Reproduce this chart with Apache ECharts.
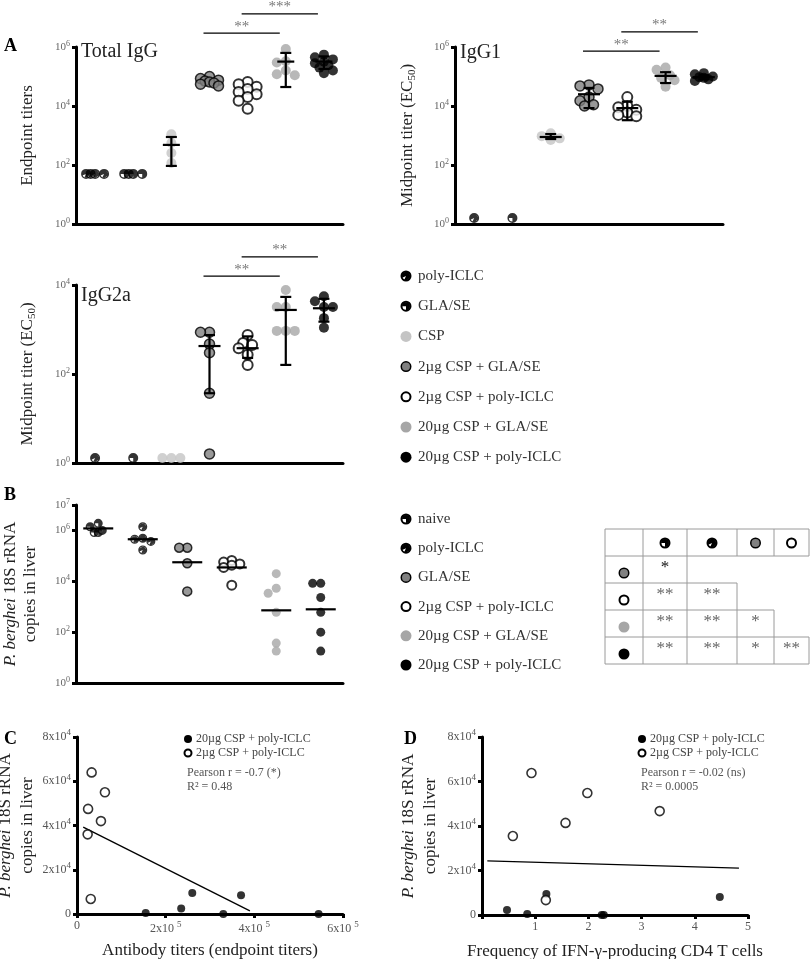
<!DOCTYPE html>
<html><head><meta charset="utf-8">
<script src="https://cdn.jsdelivr.net/npm/echarts@6/dist/echarts.min.js"></script>
<style>html,body{margin:0;padding:0;background:#fff}#c{width:810px;height:959px}</style>
</head><body><div id="c"></div>
<script>
// ================= DATA =================
const groupsA = ['poly-ICLC','GLA/SE','CSP','2µg CSP + GLA/SE','2µg CSP + poly-ICLC','20µg CSP + GLA/SE','20µg CSP + poly-ICLC'];
const groupsB = ['naive','poly-ICLC','GLA/SE','2µg CSP + poly-ICLC','20µg CSP + GLA/SE','20µg CSP + poly-ICLC'];

// Total IgG (endpoint titers)
const totalIgG = [
  [50,50,50,50],
  [50,50,50,50],
  [1100,560,255,117],
  [100000,85000,75000,70000,65000,60000,55000,48000],
  [65000,55000,45000,38000,30000,25000,20000,15000,8000],
  [850000,330000,300000,160000,120000,110000],
  [550000,450000,380000,320000,280000,240000,200000,160000,130000]
];
const totalIgGMean = [null,null,480,null,null,320000,320000];
const totalIgGLow  = [null,null,93,null,null,44000,180000];
const totalIgGHigh = [null,null,890,null,null,630000,480000];

// IgG1 (midpoint titer EC50)
const igg1 = [
  [1.6],
  [1.6],
  [1200,950,800,700],
  [52000,48000,38000,20000,15000,11000,10000],
  [20000,10000,9000,7500,6000,5000,4500],
  [200000,170000,110000,90000,75000,45000],
  [130000,120000,100000,95000,90000,80000,70000]
];
const igg1Mean = [null,null,890,25000,8500,105000,95000];
const igg1Low  = [null,null,760,8500,3300,60000,80000];
const igg1High = [null,null,1120,41000,14000,140000,110000];

// IgG2a (midpoint titer EC50)
const igg2a = [
  [1.3],
  [1.3],
  [1.3,1.3,1.3],
  [870,870,470,300,37,1.6],
  [750,500,450,380,270,160],
  [7700,3200,3200,930,930,930],
  [5600,4300,3200,3200,1800,1100]
];
const igg2aMean = [null,null,null,425,380,2750,3000];
const igg2aLow  = [null,null,null,37,230,160,1500];
const igg2aHigh = [null,null,null,750,700,5400,4900];

// Significance bars: [fromGroup, toGroup, level (log10 titer)]
const sigTotal = [[3,5,6.47],[4,6,7.12]];
const sigTotalLbl = ['**','***'];
const sigIgG1 = [[3,5,5.86],[4,6,6.51]];
const sigIgG1Lbl = ['**','**'];
const sigIgG2a = [[3,5,4.2],[4,6,4.63]];
const sigIgG2aLbl = ['**','**'];

// B: P. berghei 18S rRNA copies in liver
const liver = [
  [1900000,1400000,1000000,830000,830000],
  [1400000,490000,450000,370000,170000],
  [210000,210000,51000,4000],
  [66000,57000,48000,43000,35000,7000],
  [20000,5300,3400,600,37,18],
  [8300,8300,2300,600,100,18]
];
const liverMedian = [1200000,450000,56000,35000,720,790];

// Table of significance (rows vs columns)
const tableRows = [['*'],['**','**'],['**','**','*'],['**','**','*','**']];

// C: antibody titers vs liver rRNA
const cBlackX = [155000,235000,260000,330000,370000,545000];
const cBlackY = [500,2500,9500,0,8500,0];
const cOpenX  = [33000,63000,25000,54000,24000,31000];
const cOpenY  = [64000,55000,47500,42000,36000,6800];
const cFit    = [[14000,39300],[390000,1400]];

// D: IFN-g CD4 T cell frequency vs liver rRNA
const dBlackX = [0.47,0.85,1.21,2.25,2.29,4.47];
const dBlackY = [2200,400,9400,0,0,8100];
const dOpenX  = [0.58,0.93,1.57,1.98,1.2,3.34];
const dOpenY  = [35500,63800,41400,54800,6700,46700];
const dFit    = [[0.1,24300],[4.83,21100]];

// ================= STYLE / BUILD =================
const FF = '"Liberation Serif", "Times New Roman", serif';
const RING = 'M10 0A10 10 0 1 1 10 20A10 10 0 1 1 10 0ZM10 3A7 7 0 1 0 10 17A7 7 0 1 0 10 3Z';
const SYM = {
  quarter: 'path://' + RING + 'M10 10L3 10A7 7 0 1 1 10 17Z',
  slash: 'path://' + RING + 'M10 10L3.66 12.96A7 7 0 1 1 7.04 16.34Z'
};
const STY = {
  slash:   {symbol: SYM.slash, itemStyle:{color:'#000'}},
  quarter: {symbol: SYM.quarter, itemStyle:{color:'#000'}},
  csp:     {symbol:'circle', itemStyle:{color:'#c4c4c4'}},
  g2:      {symbol:'circle', itemStyle:{color:'#808080', borderColor:'#000', borderWidth:1.5}},
  p2:      {symbol:'circle', itemStyle:{color:'#fff', borderColor:'#000', borderWidth:2}},
  g20:     {symbol:'circle', itemStyle:{color:'#a6a6a6'}},
  p20:     {symbol:'circle', itemStyle:{color:'#000'}}
};
const stylesA = ['slash','quarter','csp','g2','p2','g20','p20'];
const stylesB = ['quarter','slash','g2','p2','g20','p20'];

// compact beeswarm: horizontal spread limited to a few pixels, overlaps allowed
function swarm(logs, ppu, d) {
  const placed = [];
  const s = d * 0.45;
  const cands = [0, -s, s, -2 * s, 2 * s];
  return logs.map(v => {
    const y = v * ppu;
    let best = 0, bestD = -1;
    for (const dx of cands) {
      const md = placed.length ? Math.min(...placed.map(p => Math.hypot(p[0] - dx, p[1] - y))) : 1e9;
      if (md >= d * 0.85) { best = dx; bestD = md; break; }
      if (md > bestD + 0.5) { bestD = md; best = dx; }
    }
    placed.push([best, y]);
    return best;
  });
}

const grids = [
  {left:76, top:47, width:267, height:177},
  {left:455, top:47, width:268, height:177},
  {left:76, top:285, width:267, height:178},
  {left:76, top:505, width:267, height:178},
  {left:77, top:737, width:266, height:177},
  {left:482, top:737, width:266, height:178}
].map(g => Object.assign({outerBoundsMode:'none', containLabel:false}, g));

const AXL = {show:true, lineStyle:{color:'#000', width:3}};
const TICK = {show:true, length:4, inside:false, lineStyle:{color:'#000', width:3}};
const labRich = {
  b:{fontFamily:FF, fontSize:11, color:'#666'},
  s:{fontFamily:FF, fontSize:8, color:'#666', padding:[0,0,7,0]}
};
function powLabel(v){ return '{b|10}{s|' + v + '}'; }

function catX(gi, cats){
  return {gridIndex:gi, type:'category', data:cats, boundaryGap:true, axisLine:AXL,
    axisTick:{show:false}, axisLabel:{show:false}, splitLine:{show:false}};
}
function logY(gi, max, name, gap, nameRich){
  return {gridIndex:gi, type:'value', min:0, max:max, interval:2, axisLine:AXL, axisTick:TICK,
    splitLine:{show:false},
    axisLabel:{formatter:powLabel, rich:labRich, margin:6},
    name:name, nameLocation:'middle', nameGap:gap,
    nameTextStyle:{fontFamily:FF, fontSize:17, color:'#222', lineHeight:20, rich:nameRich}};
}
const nameRich = {
  n:{fontFamily:FF, fontSize:17, color:'#222'},
  sub:{fontFamily:FF, fontSize:11, color:'#222', padding:[8,0,0,0]},
  i:{fontFamily:FF, fontSize:17, color:'#222', fontStyle:'italic'}
};

const xAxes = [catX(0, groupsA), catX(1, groupsA), catX(2, groupsA), catX(3, groupsB)];
const yAxes = [
  logY(0, 6, 'Endpoint titers', 38, nameRich),
  logY(1, 6, '{n|Midpoint titer (EC}{sub|50}{n|)}', 37, nameRich),
  logY(2, 4, '{n|Midpoint titer (EC}{sub|50}{n|)}', 38, nameRich),
  logY(3, 7, '{i|P. berghei} {n|18S rRNA}\n{n|copies in liver}', 35, nameRich)
];
const sciRich = {b:{fontFamily:FF, fontSize:12, color:'#555'}, s:{fontFamily:FF, fontSize:9, color:'#555', padding:[0,0,8,0]}};
// C axes
xAxes.push({gridIndex:4, type:'value', min:0, max:600000, interval:200000, axisLine:AXL, axisTick:TICK, splitLine:{show:false},
  axisLabel:{formatter:v => v === 0 ? '{b|0}' : '{b|' + (v/100000) + 'x10 }{s|5}', rich:sciRich, margin:6},
  name:'Antibody titers (endpoint titers)', nameLocation:'middle', nameGap:28,
  nameTextStyle:{fontFamily:FF, fontSize:17, color:'#222'}});
yAxes.push({gridIndex:4, type:'value', min:0, max:80000, interval:20000, axisLine:AXL, axisTick:TICK, splitLine:{show:false},
  axisLabel:{formatter:v => v === 0 ? '{b|0}' : '{b|' + (v/10000) + 'x10}{s|4}', rich:sciRich, margin:6},
  name:'{i|P. berghei} {n|18S rRNA}\n{n|copies in liver}', nameLocation:'middle', nameGap:34,
  nameTextStyle:{fontFamily:FF, fontSize:17, color:'#222', lineHeight:22, rich:nameRich}});
// D axes
xAxes.push({gridIndex:5, type:'value', min:0, max:5, interval:1, axisLine:AXL, axisTick:TICK, splitLine:{show:false},
  axisLabel:{formatter:v => v === 0 ? '' : '{b|' + v + '}', rich:sciRich, margin:6},
  name:'Frequency of IFN-γ-producing CD4 T cells', nameLocation:'middle', nameGap:28,
  nameTextStyle:{fontFamily:FF, fontSize:17, color:'#222'}});
yAxes.push({gridIndex:5, type:'value', min:0, max:80000, interval:20000, axisLine:AXL, axisTick:TICK, splitLine:{show:false},
  axisLabel:{formatter:v => v === 0 ? '{b|0}' : '{b|' + (v/10000) + 'x10}{s|4}', rich:sciRich, margin:6},
  name:'{i|P. berghei} {n|18S rRNA}\n{n|copies in liver}', nameLocation:'middle', nameGap:40,
  nameTextStyle:{fontFamily:FF, fontSize:17, color:'#222', lineHeight:22, rich:nameRich}});

const series = [];
function dotSeries(ai, cats, groups, styles, ppu, size) {
  groups.forEach((vals, g) => {
    if (!vals.length) return;
    const logs = vals.map(v => Math.log10(v));
    const offs = swarm(logs, ppu, size);
    const st = STY[styles[g]];
    series.push({type:'scatter', xAxisIndex:ai, yAxisIndex:ai, symbol:st.symbol, symbolSize:size,
      itemStyle:st.itemStyle, z:3, clip:false, silent:true,
      data: logs.map((l, i) => ({value:[cats[g], l], symbolOffset:[offs[i], 0]}))});
  });
}
function errSeries(ai, cats, mean, lo, hi, meanW, capW) {
  const data = [];
  mean.forEach((m, g) => { if (m != null) data.push([g, Math.log10(m), Math.log10(lo[g]), Math.log10(hi[g])]); });
  series.push({type:'custom', xAxisIndex:ai, yAxisIndex:ai, z:5, clip:false, silent:true, data,
    renderItem: (params, api) => {
      const x = api.value(0);
      const c = api.coord([x, api.value(1)]), l = api.coord([x, api.value(2)]), h = api.coord([x, api.value(3)]);
      const s = {stroke:'#000', lineWidth:2.2};
      return {type:'group', children:[
        {type:'line', shape:{x1:c[0], y1:l[1], x2:c[0], y2:h[1]}, style:s},
        {type:'line', shape:{x1:c[0]-capW/2, y1:l[1], x2:c[0]+capW/2, y2:l[1]}, style:s},
        {type:'line', shape:{x1:c[0]-capW/2, y1:h[1], x2:c[0]+capW/2, y2:h[1]}, style:s},
        {type:'line', shape:{x1:c[0]-meanW/2, y1:c[1], x2:c[0]+meanW/2, y2:c[1]}, style:s}
      ]};
    }});
}
function medSeries(ai, med, w) {
  series.push({type:'custom', xAxisIndex:ai, yAxisIndex:ai, z:5, clip:false, silent:true,
    data: med.map((m, g) => [g, Math.log10(m)]),
    renderItem: (params, api) => {
      const c = api.coord([api.value(0), api.value(1)]);
      return {type:'line', shape:{x1:c[0]-w/2, y1:c[1], x2:c[0]+w/2, y2:c[1]}, style:{stroke:'#000', lineWidth:2.2}};
    }});
}
function sigSeries(ai, sig, lbl) {
  series.push({type:'custom', xAxisIndex:ai, yAxisIndex:ai, z:5, clip:false, silent:true,
    data: sig.map(s => s.slice()),
    renderItem: (params, api) => {
      const a = api.coord([api.value(0), api.value(2)]), b = api.coord([api.value(1), api.value(2)]);
      return {type:'group', children:[
        {type:'line', shape:{x1:a[0]-6, y1:a[1], x2:b[0]-6, y2:a[1]}, style:{stroke:'#000', lineWidth:1.2}},
        {type:'text', x:(a[0]+b[0])/2 - 6, y:a[1]+1, style:{text:lbl[params.dataIndex], fill:'#777',
          font:'15px ' + FF, textAlign:'center', textVerticalAlign:'bottom'}}
      ]};
    }});
}

dotSeries(0, groupsA, totalIgG, stylesA, 29.5, 10);
errSeries(0, groupsA, totalIgGMean, totalIgGLow, totalIgGHigh, 17, 11);
sigSeries(0, sigTotal, sigTotalLbl);
dotSeries(1, groupsA, igg1, stylesA, 29.5, 10);
errSeries(1, groupsA, igg1Mean, igg1Low, igg1High, 22, 11);
sigSeries(1, sigIgG1, sigIgG1Lbl);
dotSeries(2, groupsA, igg2a, stylesA, 44.5, 10);
errSeries(2, groupsA, igg2aMean, igg2aLow, igg2aHigh, 22, 11);
sigSeries(2, sigIgG2a, sigIgG2aLbl);
dotSeries(3, groupsB, liver, stylesB, 25.5, 9);
medSeries(3, liverMedian, 30);

// C and D scatter + fit
function xy(xs, ys){ return xs.map((x, i) => [x, ys[i]]); }
[[4, cBlackX, cBlackY, cOpenX, cOpenY, cFit], [5, dBlackX, dBlackY, dOpenX, dOpenY, dFit]].forEach(p => {
  const [ai, bx, by, ox, oy, fit] = p;
  series.push({type:'line', xAxisIndex:ai, yAxisIndex:ai, data:fit, symbol:'none', silent:true,
    lineStyle:{color:'#000', width:1.3}, z:2});
  series.push({type:'scatter', xAxisIndex:ai, yAxisIndex:ai, name:'20µg CSP + poly-ICLC', data:xy(bx, by),
    symbol:'circle', symbolSize:8, itemStyle:{color:'#000'}, clip:false, silent:true, z:3});
  series.push({type:'scatter', xAxisIndex:ai, yAxisIndex:ai, name:'2µg CSP + poly-ICLC', data:xy(ox, oy),
    symbol:'circle', symbolSize:9, itemStyle:{color:'#fff', borderColor:'#000', borderWidth:1.6}, clip:false, silent:true, z:3});
});

// ================= GRAPHIC (labels, legends, table) =================
const G = [];
function txt(x, y, text, font, opts) {
  G.push({type:'text', x, y, z:100, silent:true,
    style:Object.assign({text, font, fill:'#222', textAlign:'left', textVerticalAlign:'middle'}, opts || {})});
}
function mark(kind, cx, cy, r) {
  if (kind === 'quarter' || kind === 'slash') {
    const a0 = kind === 'quarter' ? Math.PI : 155 * Math.PI / 180;
    const a1 = kind === 'quarter' ? 2.5 * Math.PI : (115 + 360) * Math.PI / 180;
    G.push({type:'group', z:100, silent:true, children:[
      {type:'circle', shape:{cx, cy, r:r - 1}, style:{fill:'#fff', stroke:'#000', lineWidth:2}},
      {type:'sector', shape:{cx, cy, r0:0, r:r - 1.5, startAngle:a0, endAngle:a1, clockwise:true}, style:{fill:'#000'}}
    ]});
    return;
  }
  const it = STY[kind].itemStyle;
  const bw = it.borderWidth || 0;
  G.push({type:'circle', z:100, silent:true, shape:{cx, cy, r:r - bw / 2},
    style:{fill:it.color, stroke:it.borderColor || null, lineWidth:bw}});
}
// panel letters + titles
const bold = 'bold 18px ' + FF;
txt(4, 46, 'A', bold, {fill:'#000'});
txt(4, 495, 'B', bold, {fill:'#000'});
txt(4, 739, 'C', bold, {fill:'#000'});
txt(404, 739, 'D', bold, {fill:'#000'});
txt(81, 52, 'Total IgG', '20px ' + FF);
txt(460, 53, 'IgG1', '20px ' + FF);
txt(81, 296, 'IgG2a', '20px ' + FF);

// Legend A
const legA = [['slash','poly-ICLC'],['quarter','GLA/SE'],['csp','CSP'],['g2','2µg CSP + GLA/SE'],
  ['p2','2µg CSP + poly-ICLC'],['g20','20µg CSP + GLA/SE'],['p20','20µg CSP + poly-ICLC']];
legA.forEach((it, i) => { const y = 276 + i * 30.2; mark(it[0], 406, y, 5.5); txt(418, y, it[1], '15px ' + FF, {fill:'#333'}); });
// Legend B
const legB = [['quarter','naive'],['slash','poly-ICLC'],['g2','GLA/SE'],['p2','2µg CSP + poly-ICLC'],
  ['g20','20µg CSP + GLA/SE'],['p20','20µg CSP + poly-ICLC']];
legB.forEach((it, i) => { const y = 519 + i * 29.2; mark(it[0], 406, y, 5.5); txt(418, y, it[1], '15px ' + FF, {fill:'#333'}); });

// Table
const TX = [605, 643, 687, 737, 774, 809];
const TY = [529, 556, 583, 610, 637, 664];
const hl = [[0,5],[0,5],[0,3],[0,4],[0,5],[0,5]];
function ln(x1, y1, x2, y2){ G.push({type:'line', z:100, silent:true, shape:{x1, y1, x2, y2}, style:{stroke:'#9a9a9a', lineWidth:1}}); }
TY.forEach((y, i) => ln(TX[hl[i][0]], y, TX[hl[i][1]], y));
ln(TX[0], TY[0], TX[0], TY[5]);
ln(TX[1], TY[0], TX[1], TY[5]);
ln(TX[2], TY[0], TX[2], TY[5]);
ln(TX[3], TY[0], TX[3], TY[1]); ln(TX[3], TY[2], TX[3], TY[5]);
ln(TX[4], TY[0], TX[4], TY[1]); ln(TX[4], TY[3], TX[4], TY[5]);
ln(TX[5], TY[0], TX[5], TY[1]); ln(TX[5], TY[4], TX[5], TY[5]);
['quarter','slash','g2','p2'].forEach((k, j) => mark(k, (TX[j+1] + TX[j+2]) / 2, 543, 5.5));
['g2','p2','g20','p20'].forEach((k, i) => mark(k, 624, TY[i+1] + 17, 5.5));
tableRows.forEach((row, i) => row.forEach((s, j) => {
  txt((TX[j+1] + TX[j+2]) / 2, TY[i+1] + 12, s, '17px ' + FF, {textAlign:'center', fill: (i === 0 ? '#111' : '#666')});
}));

// C / D annotations
[[188, 'Pearson r = -0.7 (*)', 'R² = 0.48'], [642, 'Pearson r = -0.02 (ns)', 'R² = 0.0005']].forEach(a => {
  const x = a[0];
  mark('p20', x, 739, 4);
  txt(x + 8, 739, '20µg CSP + poly-ICLC', '12px ' + FF, {fill:'#444'});
  mark('p2', x, 753, 4.5);
  txt(x + 8, 753, '2µg CSP + poly-ICLC', '12px ' + FF, {fill:'#444'});
  txt(x - 1, 773, a[1], '12px ' + FF, {fill:'#555'});
  txt(x - 1, 787, a[2], '12px ' + FF, {fill:'#555'});
});

const chart = echarts.init(document.getElementById('c'), null, {renderer:'canvas'});
chart.setOption({
  animation:false,
  backgroundColor:'#fff',
  grid:grids, xAxis:xAxes, yAxis:yAxes, series, graphic:G
});
</script>
</body></html>
